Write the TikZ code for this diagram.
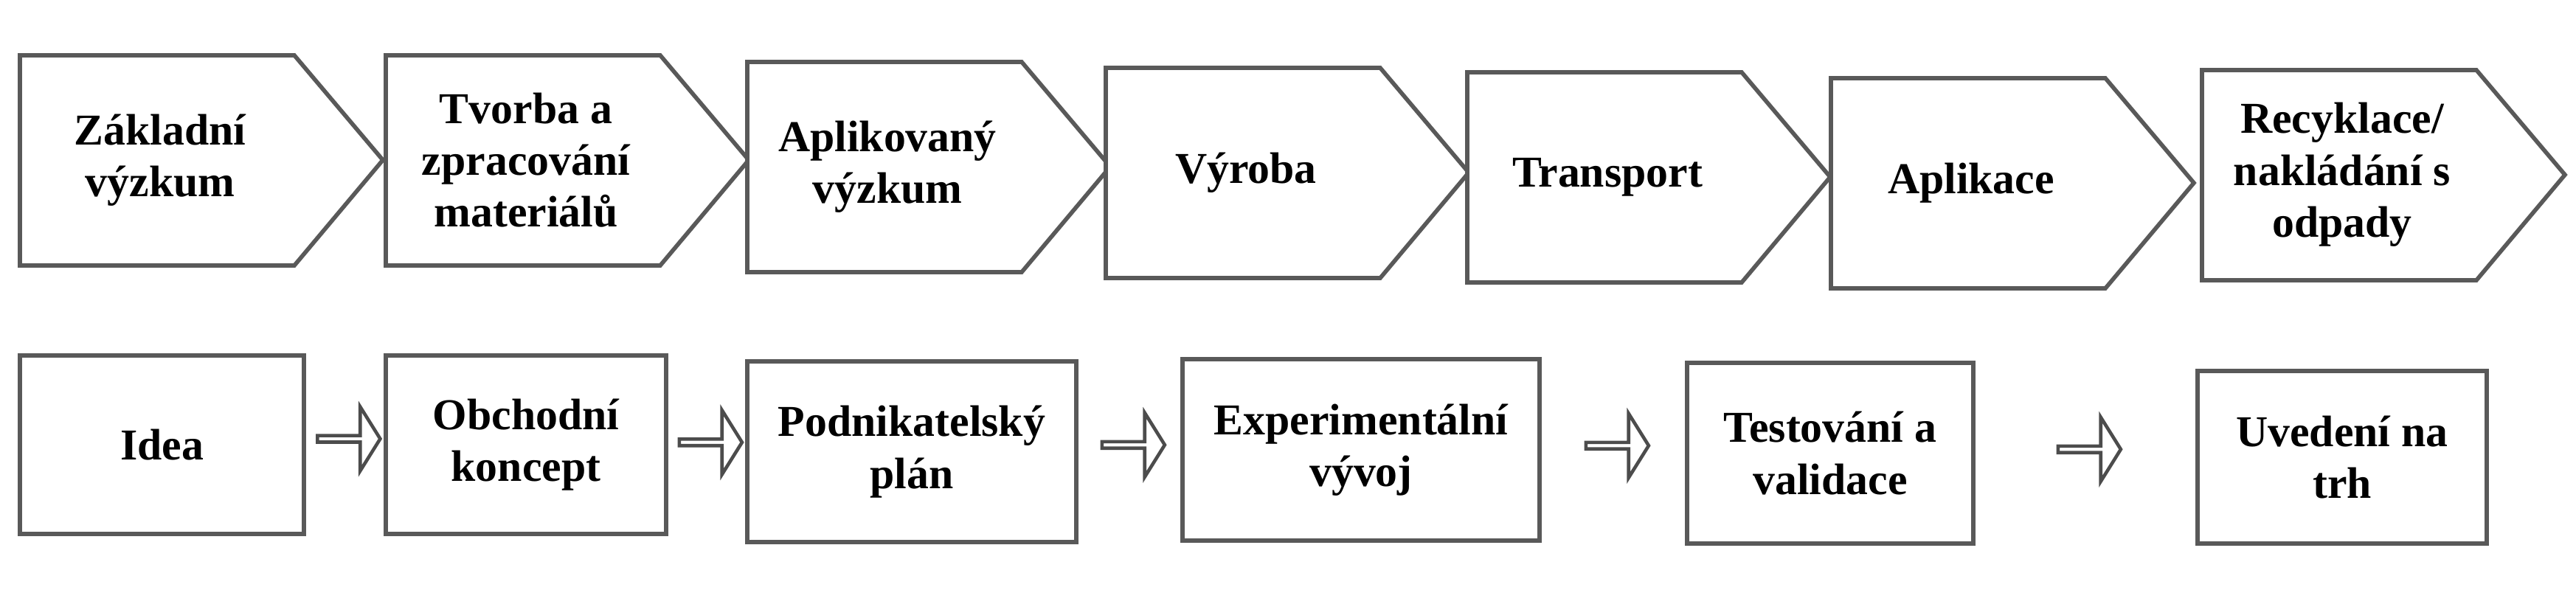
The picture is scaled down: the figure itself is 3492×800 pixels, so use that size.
\documentclass[tikz,border=0pt]{standalone}
\usepackage{fontspec}
\setmainfont{Liberation Serif}
\usetikzlibrary{shapes.arrows,calc}

\begin{document}
\begin{tikzpicture}[x=0.01cm,y=-0.01cm]
  \tikzstyle{stage}=[draw=black!65,line width=1.6pt,line join=miter,fill=white]
  \tikzstyle{txt}=[align=center,font=\bfseries\fontsize{17}{20}\selectfont,inner sep=0pt]
  \tikzstyle{box}=[draw=black!65,line width=1.6pt,align=center,inner sep=0pt,
                   font=\bfseries\fontsize{17}{20}\selectfont]
  \tikzstyle{blk}=[draw=black!70,line width=1.3pt,single arrow,inner sep=0pt,
                   minimum height=0.85cm,minimum width=0.87cm,
                   single arrow head extend=0.2cm,single arrow tip angle=116]
  \useasboundingbox (0,0) rectangle (3492,800);

  % upper chain
  \foreach \name/\x/\y/\text in {S-1/27/75/{Základní\\výzkum},
                                 S-2/523/75/{Tvorba a\\zpracování\\materiálů},
                                 S-3/1013/84/{Aplikovaný\\výzkum},
                                 S-4/1499/92/{Výroba},
                                 S-5/1989/98/{Transport},
                                 S-6/2482/106/{Aplikace},
                                 S-7/2985/95/{Recyklace/\\nakládání s\\odpady}}
  {
    \draw[stage] (\x,\y) -- ++(372,0) -- ++(120,142) -- ++(-120,143)
                 -- ++(-372,0) -- cycle;
    \node[txt] (\name) at (\x+190,\y+142) {\text};
  }

  % lower chain
  \foreach \name/\xa/\xb/\ya/\yb/\text in {B-1/27/412/482/724/{Idea},
                                B-2/523/903/482/724/{Obchodní\\koncept},
                                B-3/1013/1459/490/735/{Podnikatelský\\plán},
                                B-4/1603/2087/487/733/{Experimentální\\vývoj},
                                B-5/2287/2675/492/737/{Testování a\\validace},
                                B-6/2979/3371/503/737/{Uvedení na\\trh}}
    \node[box,minimum width={(\xb-\xa)*0.01cm},minimum height={(\yb-\ya)*0.01cm}]
      (\name) at ({(\xa+\xb)/2},{(\ya+\yb)/2}) {\text};

  \foreach \from/\to in {1/2,2/3,3/4,4/5,5/6}
    \node[blk] (A-\from) at ($(B-\from.east)!0.5!(B-\to.west)+(4,-8)$) {};
\end{tikzpicture}
\end{document}
